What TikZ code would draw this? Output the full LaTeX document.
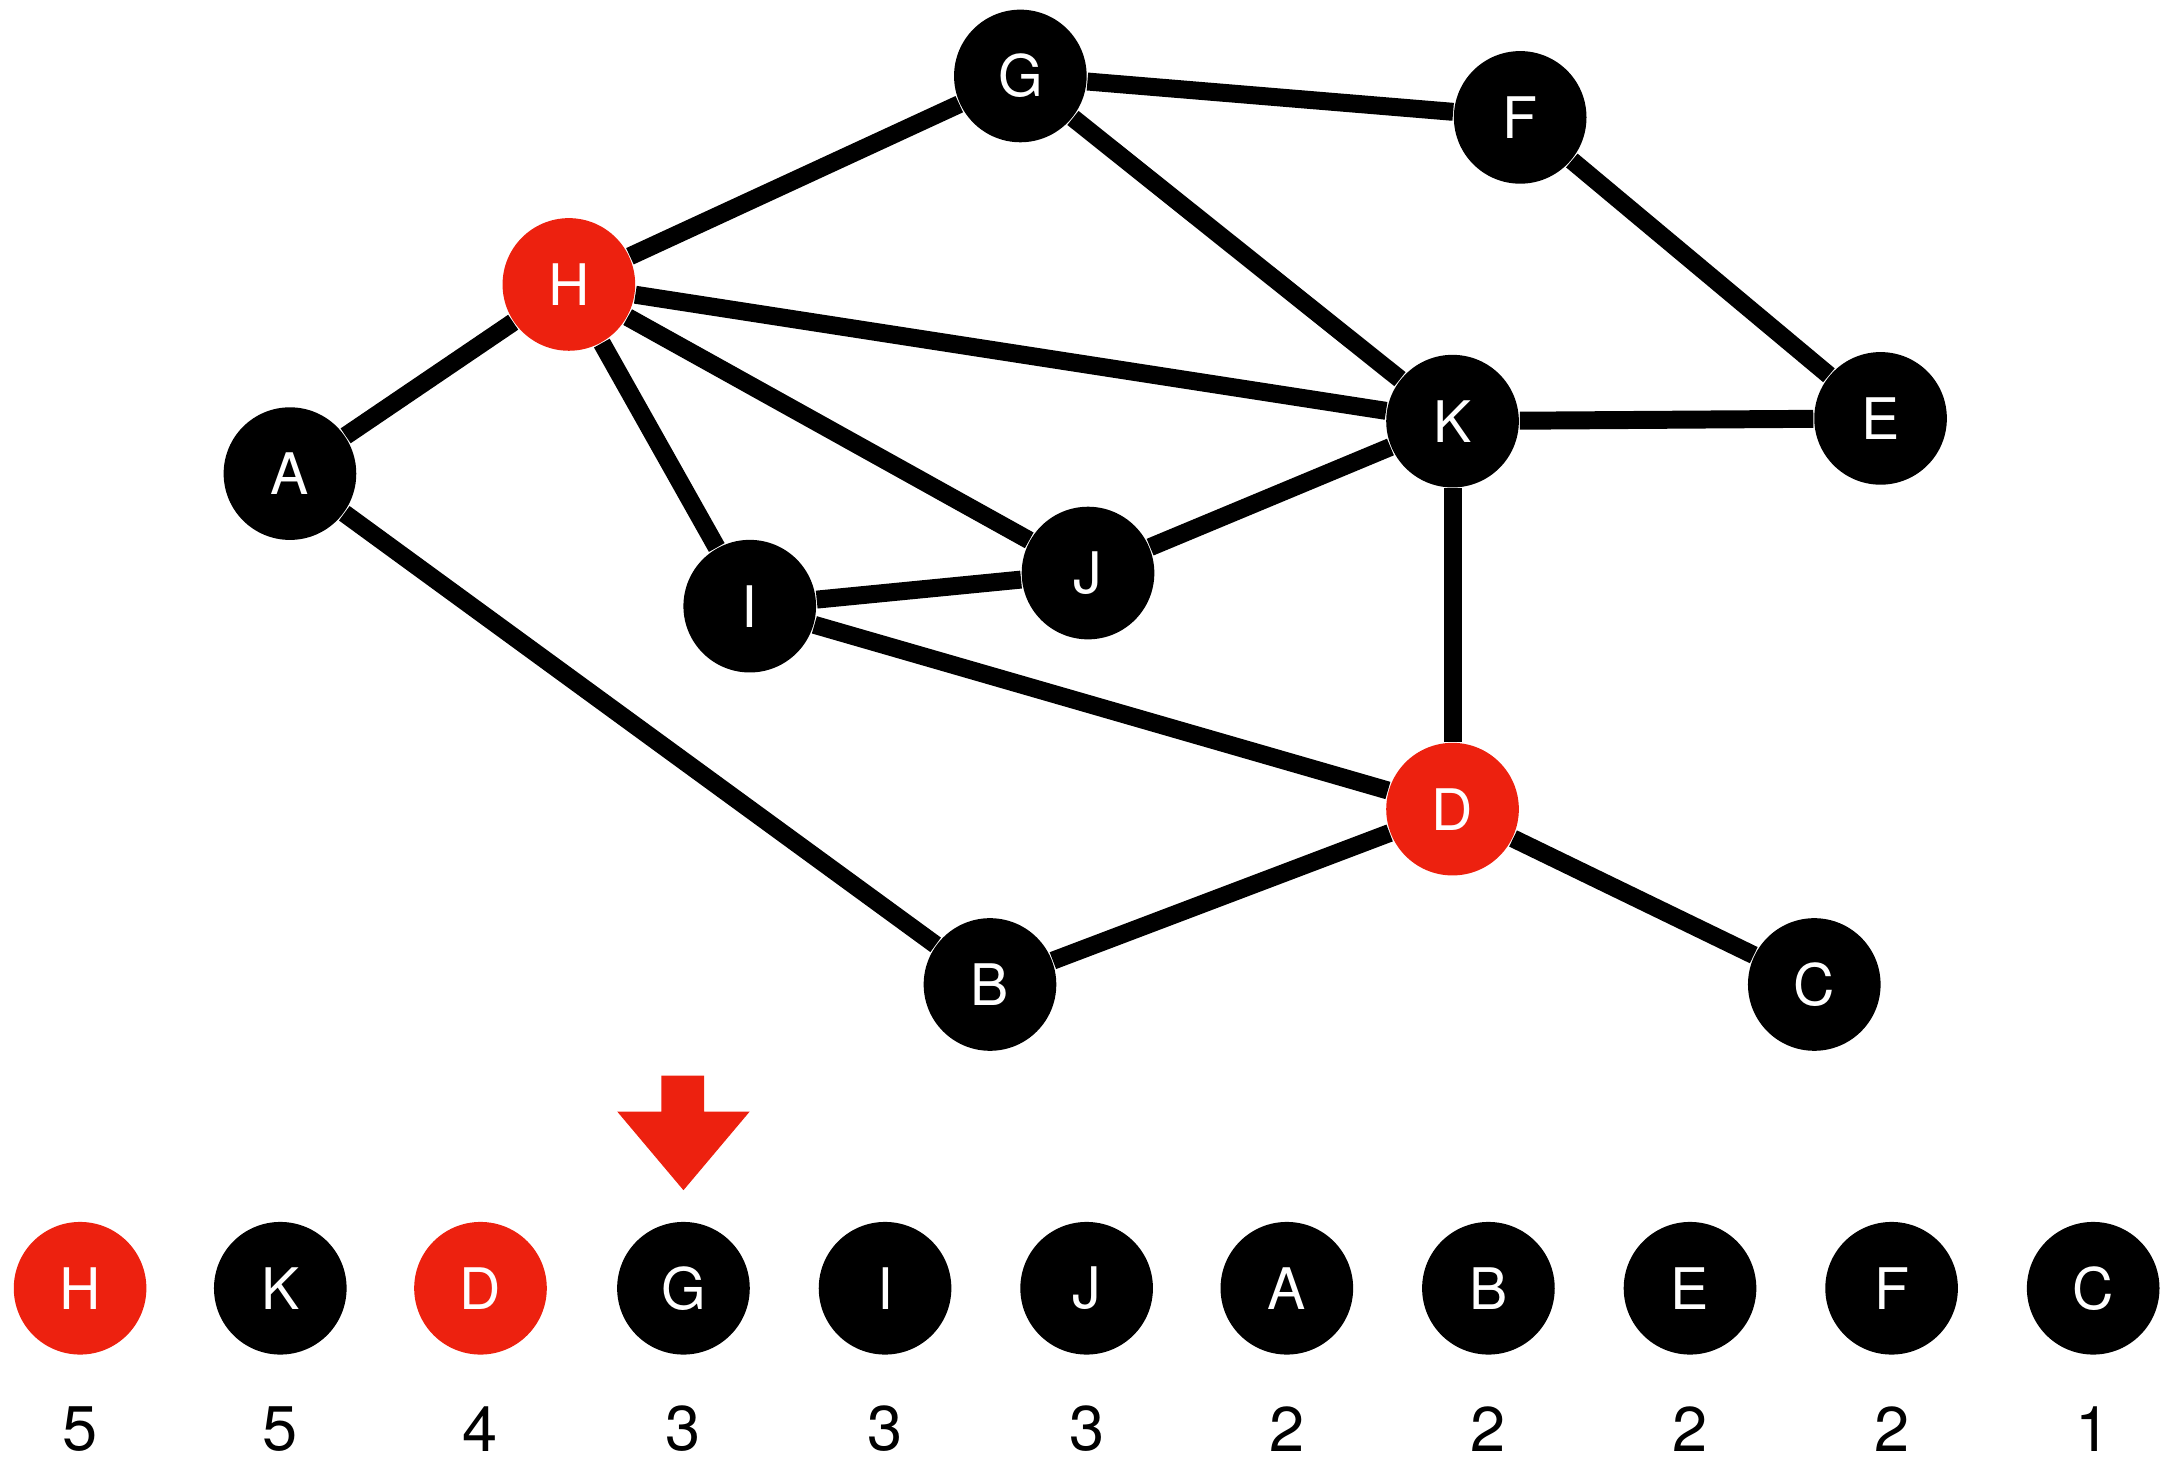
\documentclass[tikz,border=0pt]{standalone}
\usepackage{fontspec}
\setmainfont{TeX Gyre Heros}
\usetikzlibrary{backgrounds}
\definecolor{hotred}{RGB}{237,33,15}
\tikzset{
    vtx/.style={circle,fill=black,text=white,minimum size=0.96cm,inner sep=0pt,font=\fontsize{11.8}{14}\selectfont},
    hot/.style={vtx,fill=hotred},
    deg/.style={inner sep=0pt,font=\fontsize{13}{15}\selectfont},
    edge/.style={line width=3.7pt}
}
\begin{document}
\begin{tikzpicture}[x=0.01cm,y=-0.01cm]
                \useasboundingbox (0,0) rectangle (1568,1059);
                %% graph
                \node[vtx] (G) at (739,55) {G};
                \node[vtx] (F) at (1101,85) {F};
                \node[hot] (H) at (412,206) {H};
                \node[vtx] (A) at (210,343) {A};
                \node[vtx] (K) at (1052,305) {K};
                \node[vtx] (E) at (1362,303) {E};
                \node[vtx] (J) at (788,415) {J};
                \node[vtx] (I) at (543,439) {I};
                \node[hot] (D) at (1052,586) {D};
                \node[vtx] (B) at (717,713) {B};
                \node[vtx] (C) at (1314,713) {C};
                %% edges
                \begin{pgfonlayer}{background}
                \draw[edge] (H) -- (G);
                \draw[edge] (G) -- (F);
                \draw[edge] (G) -- (K);
                \draw[edge] (F) -- (E);
                \draw[edge] (H) -- (K);
                \draw[edge] (H) -- (J);
                \draw[edge] (H) -- (I);
                \draw[edge] (H) -- (A);
                \draw[edge] (K) -- (E);
                \draw[edge] (K) -- (J);
                \draw[edge] (K) -- (D);
                \draw[edge] (I) -- (J);
                \draw[edge] (I) -- (D);
                \draw[edge] (A) -- (B);
                \draw[edge] (D) -- (B);
                \draw[edge] (D) -- (C);
                \end{pgfonlayer}
                %% pointer
                \fill[hotred] (479,779) -- (510,779) -- (510,805) -- (543,805) -- (495,862) -- (447,805) -- (479,805) -- cycle;
                %% sorted by degree
                \node[hot] (sH) at (58,933) {H};
                \node[vtx] (sK) at (203,933) {K};
                \node[hot] (sD) at (348,933) {D};
                \node[vtx] (sG) at (495,933) {G};
                \node[vtx] (sI) at (641,933) {I};
                \node[vtx] (sJ) at (787,933) {J};
                \node[vtx] (sA) at (932,933) {A};
                \node[vtx] (sB) at (1078,933) {B};
                \node[vtx] (sE) at (1224,933) {E};
                \node[vtx] (sF) at (1370,933) {F};
                \node[vtx] (sC) at (1516,933) {C};
                \node[deg] (dH) at (58,1035) {5};
                \node[deg] (dK) at (203,1035) {5};
                \node[deg] (dD) at (348,1035) {4};
                \node[deg] (dG) at (495,1035) {3};
                \node[deg] (dI) at (641,1035) {3};
                \node[deg] (dJ) at (787,1035) {3};
                \node[deg] (dA) at (932,1035) {2};
                \node[deg] (dB) at (1078,1035) {2};
                \node[deg] (dE) at (1224,1035) {2};
                \node[deg] (dF) at (1370,1035) {2};
                \node[deg] (dC) at (1516,1035) {1};
\end{tikzpicture}
\end{document}
